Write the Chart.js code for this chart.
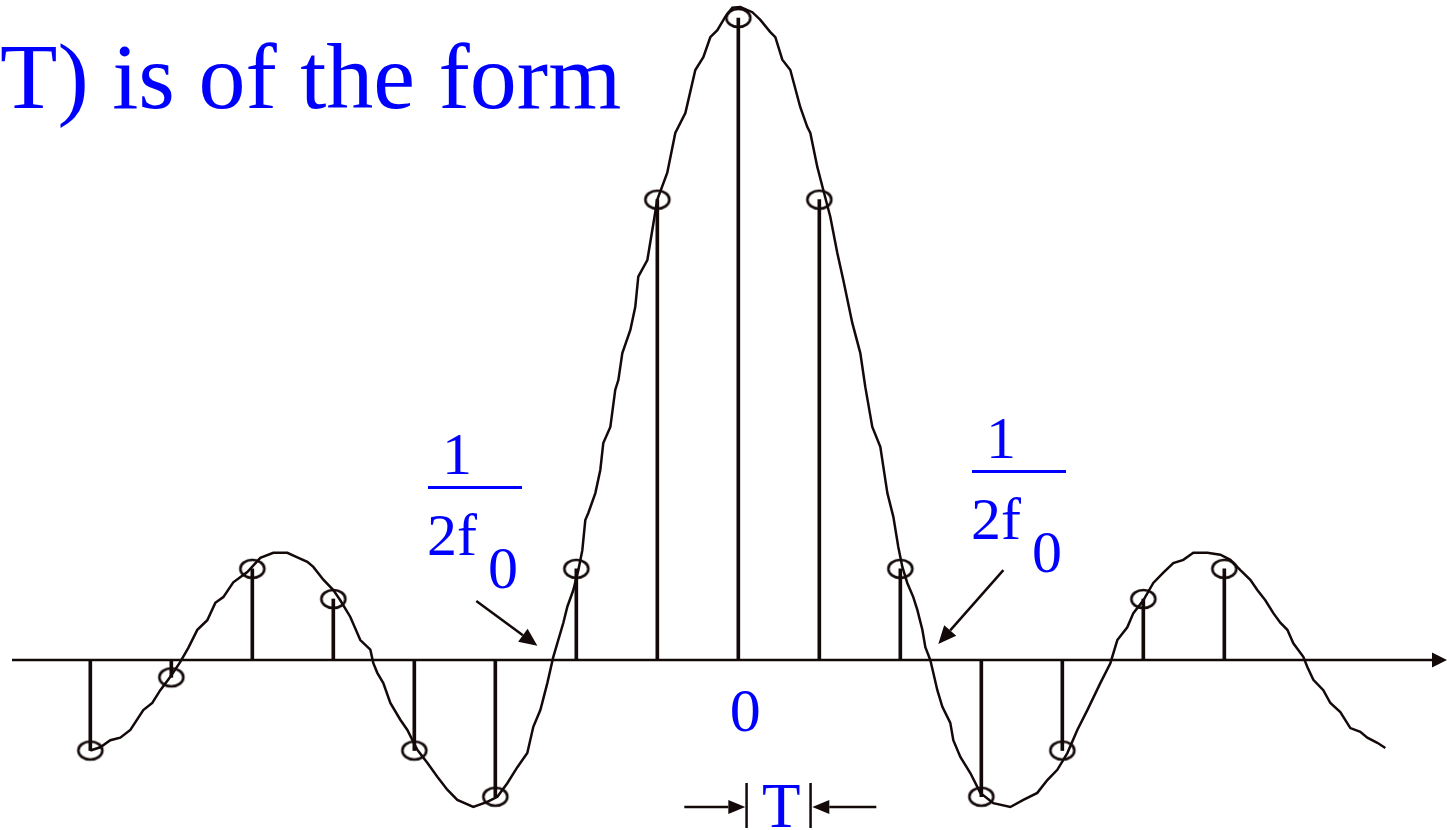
<!DOCTYPE html>
<html>
<head>
<meta charset="utf-8">
<script src="https://cdn.jsdelivr.net/npm/chart.js@4/dist/chart.umd.min.js"></script>
<style>
  html, body { margin: 0; padding: 0; background: #fff; }
  canvas { display: block; }
</style>
</head>
<body>
<canvas id="sincChart" width="1447" height="830"></canvas>
<script>
// samples x(nT), n = -8 .. 6
var sampleN = [-8, -7, -6, -5, -4, -3, -2, -1, 0, 1, 2, 3, 4, 5, 6];
var sampleV = [-0.141, -0.027, 0.142, 0.095, -0.141, -0.213, 0.142, 0.717, 1, 0.717, 0.142, -0.213, -0.141, 0.095, 0.142];

// the continuous curve (hand traced, so a bit wobbly), x in units of T
var curveX = [-8.0, -7.877, -7.753, -7.630, -7.506, -7.346, -7.235, -7.136, -7.012, -6.889,
  -6.790, -6.679, -6.556, -6.457, -6.358, -6.235, -6.062, -5.901, -5.741, -5.568,
  -5.444, -5.321, -5.247, -5.123, -5.0, -4.914, -4.790, -4.667, -4.543, -4.506,
  -4.457, -4.383, -4.296, -4.173, -4.086, -3.963, -3.840, -3.716, -3.593, -3.469,
  -3.272, -3.099, -2.975, -2.852, -2.728, -2.605, -2.531, -2.444, -2.358, -2.284,
  -2.235, -2.160, -2.111, -2.037, -1.975, -1.926, -1.889, -1.852, -1.765, -1.704,
  -1.667, -1.580, -1.519, -1.481, -1.432, -1.333, -1.272, -1.235, -1.123, -1.0,
  -0.877, -0.778, -0.654, -0.617, -0.531, -0.432, -0.346, -0.259, -0.160, -0.074,
  0.025, 0.173, 0.272, 0.395, 0.457, 0.543, 0.642, 0.765, 0.852, 0.889,
  0.975, 1.049, 1.136, 1.222, 1.296, 1.407, 1.506, 1.568, 1.654, 1.753,
  1.840, 1.914, 1.975, 2.025, 2.086, 2.160, 2.210, 2.272, 2.309, 2.370,
  2.407, 2.457, 2.519, 2.617, 2.654, 2.741, 2.864, 2.988, 3.148, 3.358,
  3.519, 3.691, 3.815, 3.938, 4.062, 4.185, 4.309, 4.469, 4.593, 4.679,
  4.802, 4.877, 5.0, 5.123, 5.247, 5.370, 5.494, 5.617, 5.790, 5.951,
  6.074, 6.198, 6.321, 6.407, 6.506, 6.605, 6.691, 6.778, 6.852, 6.975,
  7.025, 7.099, 7.222, 7.309, 7.432, 7.556, 7.679, 7.765, 7.889, 7.988];
var curveY = [-0.141, -0.136, -0.125, -0.121, -0.109, -0.078, -0.067, -0.047, -0.026, -0.003,
  0.019, 0.047, 0.062, 0.089, 0.098, 0.121, 0.137, 0.159, 0.167, 0.167,
  0.160, 0.153, 0.145, 0.125, 0.109, 0.093, 0.067, 0.031, 0.016, -0.005,
  -0.020, -0.036, -0.067, -0.093, -0.109, -0.140, -0.160, -0.182, -0.202, -0.218,
  -0.229, -0.221, -0.213, -0.192, -0.167, -0.145, -0.104, -0.078, -0.036, 0.005,
  0.026, 0.058, 0.083, 0.109, 0.140, 0.171, 0.218, 0.229, 0.260, 0.296,
  0.338, 0.363, 0.421, 0.436, 0.478, 0.514, 0.550, 0.597, 0.623, 0.717,
  0.759, 0.821, 0.852, 0.872, 0.919, 0.939, 0.970, 0.981, 1.002, 1.016,
  1.017, 1.009, 0.997, 0.978, 0.970, 0.935, 0.919, 0.861, 0.830, 0.821,
  0.768, 0.732, 0.690, 0.634, 0.592, 0.525, 0.478, 0.425, 0.363, 0.332,
  0.260, 0.223, 0.176, 0.145, 0.120, 0.098, 0.078, 0.047, 0.020, 0,
  -0.020, -0.047, -0.073, -0.098, -0.125, -0.151, -0.176, -0.207, -0.223, -0.229,
  -0.218, -0.207, -0.187, -0.171, -0.145, -0.109, -0.078, -0.036, -0.005, 0.031,
  0.051, 0.073, 0.093, 0.120, 0.136, 0.151, 0.156, 0.167, 0.167, 0.164,
  0.156, 0.140, 0.125, 0.109, 0.093, 0.073, 0.058, 0.047, 0.026, 0.005,
  -0.011, -0.031, -0.047, -0.067, -0.081, -0.106, -0.112, -0.121, -0.129, -0.137];

var originLabel = '0';
var periodLabel = 'T';
var titleText = 'T) is of the form';

var ink = '#140909';
var blue = '#0000ff';
var face = '"Liberation Serif"';

var stems = sampleN.map(function (n, i) { return { x: n, y: sampleV[i] }; });
var curve = curveX.map(function (x, i) { return { x: x, y: curveY[i] }; });

// little open ellipse used as the sample marker
var ring = document.createElement('canvas');
ring.width = 30;
ring.height = 24;
(function () {
  var c = ring.getContext('2d');
  c.strokeStyle = ink;
  c.lineWidth = 2.6;
  c.beginPath();
  c.ellipse(15, 12, 12, 9, 0, 0, Math.PI * 2);
  c.stroke();
})();

function arrow(ctx, x1, y1, x2, y2, len, half) {
  var a = Math.atan2(y2 - y1, x2 - x1);
  var bx = x2 - len * Math.cos(a), by = y2 - len * Math.sin(a);
  ctx.beginPath();
  ctx.moveTo(x1, y1);
  ctx.lineTo(bx, by);
  ctx.stroke();
  ctx.beginPath();
  ctx.moveTo(x2, y2);
  ctx.lineTo(bx + half * Math.sin(a), by - half * Math.cos(a));
  ctx.lineTo(bx - half * Math.sin(a), by + half * Math.cos(a));
  ctx.closePath();
  ctx.fill();
}

function fraction(ctx, left, top) {
  ctx.font = '60px ' + face;
  ctx.textAlign = 'center';
  ctx.fillText('1', left + 29, top);
  ctx.fillRect(left, top + 12, 94, 3);
  ctx.textAlign = 'left';
  ctx.fillText('2f', left - 1, top + 81);
  ctx.fillText('0', left + 60, top + 114);
}

var sketch = {
  id: 'sketch',
  beforeDatasetsDraw: function (chart) {
    var ctx = chart.ctx;
    var ay = chart.scales.y.getPixelForValue(0);
    var w = chart.width;
    ctx.save();
    ctx.strokeStyle = ink;
    ctx.fillStyle = ink;
    ctx.lineWidth = 2.5;
    arrow(ctx, 12, ay, w, ay, 15, 7.5);
    ctx.restore();
  },
  afterDatasetsDraw: function (chart) {
    var ctx = chart.ctx;
    var xs = chart.scales.x, ys = chart.scales.y;
    var ay = ys.getPixelForValue(0);
    var x0 = xs.getPixelForValue(0);
    ctx.save();

    ctx.fillStyle = blue;
    ctx.textBaseline = 'alphabetic';
    ctx.font = '94px ' + face;
    ctx.textAlign = 'left';
    ctx.fillText(titleText, 0, 108);

    // 1/(2 f0) marks on both sides of the main lobe
    fraction(ctx, 428, 474);
    fraction(ctx, 972, 458);

    ctx.font = '62px ' + face;
    ctx.textAlign = 'center';
    ctx.fillText(originLabel, x0 + 7, ay + 71);
    ctx.font = '63px ' + face;
    ctx.fillText(periodLabel, x0 + 43, ay + 167);

    // arrows pointing at the zero crossings
    ctx.strokeStyle = ink;
    ctx.fillStyle = ink;
    ctx.lineWidth = 2.5;
    arrow(ctx, xs.getPixelForValue(-3.235), ys.getPixelForValue(0.092),
          xs.getPixelForValue(-2.481), ys.getPixelForValue(0.022), 18, 8);
    arrow(ctx, xs.getPixelForValue(3.272), ys.getPixelForValue(0.140),
          xs.getPixelForValue(2.469), ys.getPixelForValue(0.025), 18, 8);

    // width of one sample period
    var ty = ay + 147;
    ctx.fillRect(x0 + 7, ay + 123, 2.5, 45);
    ctx.fillRect(x0 + 71, ay + 123, 2.5, 45);
    arrow(ctx, x0 - 54, ty, x0 + 7, ty, 17, 7);
    arrow(ctx, x0 + 138, ty, x0 + 74, ty, 17, 7);
    ctx.restore();
  }
};

new Chart(document.getElementById('sincChart'), {
  type: 'scatter',
  data: {
    datasets: [
      {
        type: 'line',
        data: curve,
        showLine: true,
        borderColor: ink,
        borderWidth: 2.5,
        pointRadius: 0,
        tension: 0,
        order: 3
      },
      {
        type: 'bar',
        data: stems,
        backgroundColor: ink,
        barThickness: 3,
        order: 2
      },
      {
        type: 'scatter',
        data: stems,
        pointStyle: ring,
        pointRadius: 12,
        order: 1
      }
    ]
  },
  options: {
    responsive: false,
    animation: false,
    events: [],
    layout: { padding: 0, autoPadding: false },
    plugins: { legend: { display: false }, tooltip: { enabled: false } },
    scales: {
      x: { type: 'linear', display: false, offset: false, grid: { offset: false }, min: -9.115, max: 8.749 },
      y: { type: 'linear', display: false, min: -0.2648, max: 1.028 }
    }
  },
  plugins: [sketch]
});
</script>
</body>
</html>
